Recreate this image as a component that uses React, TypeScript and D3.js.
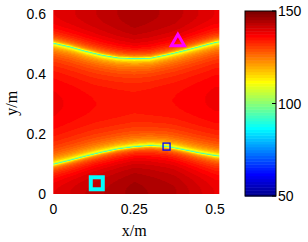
import { useEffect, useRef } from "react";
import * as d3 from "d3";

// nodal curves (y in m at each x)
const curveX = [0, 0.05, 0.1, 0.15, 0.2, 0.25, 0.3, 0.35, 0.4, 0.45, 0.5, 0.515];
const upperNode = [0.5, 0.488, 0.473, 0.46, 0.451, 0.449, 0.45, 0.461, 0.474, 0.488, 0.502, 0.505];
const lowerNode = [0.097, 0.11, 0.124, 0.137, 0.148, 0.155, 0.159, 0.156, 0.146, 0.135, 0.126, 0.124];

// peak levels of each band between the curves
const levelX = [0, 0.125, 0.25, 0.375, 0.5];
const topLevel = [139, 142, 145, 143, 139];
const midLevel = [138, 136, 135, 136, 138];
const bottomLevel = [139, 143, 146, 144, 139];
const floorLevel = 94;
const roomHeight = 0.6;

const sourcePt = [0.134, 0.034];
const probePt = [0.35, 0.156];
const targetPt = [0.385, 0.504];

const xTicks = [0, 0.25, 0.5];
const yTicks = [0, 0.2, 0.4, 0.6];
const cTicks = [50, 100, 150];
const cDomain: [number, number] = [50, 150];

const jet = (i: number, n: number) => {
  const t = (i + 1) / n;
  const c = (v: number) => Math.round(255 * Math.max(0, Math.min(1, v)));
  return [c(1.5 - Math.abs(4 * t - 3)), c(1.5 - Math.abs(4 * t - 2)), c(1.5 - Math.abs(4 * t - 1))];
};

const App = () => {
  const svgRef = useRef<SVGSVGElement | null>(null);

  useEffect(() => {
    const svg = d3.select(svgRef.current);
    svg.selectAll("*").remove();

    const x = d3.scaleLinear().domain([0, 0.5]).range([53.5, 215]);
    const y = d3.scaleLinear().domain([0, 0.6]).range([193.5, 13]);
    const c = d3.scaleLinear().domain(cDomain).range([196, 11]);

    const upper = d3.scaleLinear().domain(curveX).range(upperNode);
    const lower = d3.scaleLinear().domain(curveX).range(lowerNode);
    const topL = d3.scaleLinear().domain(levelX).range(topLevel).clamp(true);
    const midL = d3.scaleLinear().domain(levelX).range(midLevel).clamp(true);
    const botL = d3.scaleLinear().domain(levelX).range(bottomLevel).clamp(true);

    const nColors = 64;
    const colors = d3.range(nColors).map((i) => jet(i, nColors));
    const colorIndex = (v: number) =>
      Math.max(0, Math.min(nColors - 1, Math.floor(((v - cDomain[0]) / (cDomain[1] - cDomain[0])) * nColors)));

    // field image
    const x0 = 53.3;
    const x1 = 219.3;
    const y0 = 10;
    const y1 = 193.5;
    const W = Math.round(x1 - x0);
    const H = Math.round(y1 - y0);
    const canvas = document.createElement("canvas");
    canvas.width = W;
    canvas.height = H;
    const ctx = canvas.getContext("2d")!;
    const img = ctx.createImageData(W, H);
    for (let j = 0; j < H; j++) {
      const dy = y.invert(y0 + j + 0.5);
      for (let i = 0; i < W; i++) {
        const dx = x.invert(x0 + i + 0.5);
        const yb = lower(dx);
        const yt = upper(dx);
        let p: number;
        let L: number;
        if (dy < yb) {
          p = Math.sin((Math.PI / 2) * Math.min(1, (yb - dy) / yb));
          L = botL(dx);
        } else if (dy <= yt) {
          p = Math.sin((Math.PI * (dy - yb)) / (yt - yb));
          L = midL(dx);
        } else {
          p = Math.sin((Math.PI / 2) * Math.min(1, (dy - yt) / (roomHeight - yt)));
          L = topL(dx);
        }
        const v = Math.max(floorLevel, L + 20 * Math.log10(Math.max(Math.abs(p), 1e-6)));
        const col = colors[colorIndex(v)];
        const k = (j * W + i) * 4;
        img.data[k] = col[0];
        img.data[k + 1] = col[1];
        img.data[k + 2] = col[2];
        img.data[k + 3] = 255;
      }
    }
    ctx.putImageData(img, 0, 0);

    svg
      .append("image")
      .attr("x", x0)
      .attr("y", y0)
      .attr("width", W)
      .attr("height", H)
      .attr("preserveAspectRatio", "none")
      .attr("href", canvas.toDataURL());

    // markers
    svg
      .append("rect")
      .attr("x", x(sourcePt[0]) - 6)
      .attr("y", y(sourcePt[1]) - 6)
      .attr("width", 12)
      .attr("height", 12)
      .attr("fill", "none")
      .attr("stroke", "#00ffff")
      .attr("stroke-width", 4);

    svg
      .append("rect")
      .attr("x", x(probePt[0]) - 3.5)
      .attr("y", y(probePt[1]) - 3.5)
      .attr("width", 7)
      .attr("height", 7)
      .attr("fill", "none")
      .attr("stroke", "#0000ff")
      .attr("stroke-width", 1.3);

    svg
      .append("path")
      .attr("transform", `translate(${x(targetPt[0])},${y(targetPt[1])})`)
      .attr("d", d3.symbol(d3.symbolTriangle, 75)())
      .attr("fill", "none")
      .attr("stroke", "#ff00ff")
      .attr("stroke-width", 3);

    const tickFont = "'Liberation Sans', Arial, sans-serif";

    svg
      .append("g")
      .selectAll("text")
      .data(xTicks)
      .join("text")
      .attr("x", (d) => x(d))
      .attr("y", 214)
      .attr("text-anchor", "middle")
      .attr("font-family", tickFont)
      .attr("font-size", 14)
      .text((d) => String(d));

    svg
      .append("g")
      .selectAll("text")
      .data(yTicks)
      .join("text")
      .attr("x", 46)
      .attr("y", (d) => y(d))
      .attr("dy", "0.4em")
      .attr("text-anchor", "end")
      .attr("font-family", tickFont)
      .attr("font-size", 14)
      .text((d) => String(d));

    svg
      .append("text")
      .attr("x", x(0.25))
      .attr("y", 236)
      .attr("text-anchor", "middle")
      .attr("font-family", "'Liberation Serif', 'Times New Roman', serif")
      .attr("font-size", 16)
      .text("x/m");

    svg
      .append("text")
      .attr("transform", `translate(17,${y(0.3)}) rotate(-90)`)
      .attr("text-anchor", "middle")
      .attr("font-family", "'Liberation Serif', 'Times New Roman', serif")
      .attr("font-size", 16)
      .text("y/m");

    // colorbar
    const cb = svg.append("g");
    const bandH = (c(cDomain[0]) - c(cDomain[1])) / nColors;
    cb.selectAll("rect")
      .data(colors)
      .join("rect")
      .attr("x", 245)
      .attr("y", (_, i) => c(cDomain[0]) - (i + 1) * bandH)
      .attr("width", 31)
      .attr("height", bandH + 0.5)
      .attr("fill", (d) => `rgb(${d[0]},${d[1]},${d[2]})`);
    cb.append("rect")
      .attr("x", 245)
      .attr("y", c(cDomain[1]))
      .attr("width", 31)
      .attr("height", c(cDomain[0]) - c(cDomain[1]))
      .attr("fill", "none")
      .attr("stroke", "#000")
      .attr("stroke-width", 1);
    cb.selectAll("line")
      .data(cTicks)
      .join("line")
      .attr("x1", 272)
      .attr("x2", 276)
      .attr("y1", (d) => c(d))
      .attr("y2", (d) => c(d))
      .attr("stroke", "#000");
    cb.selectAll("text")
      .data(cTicks)
      .join("text")
      .attr("x", 278)
      .attr("y", (d) => c(d))
      .attr("dy", "0.38em")
      .attr("font-family", tickFont)
      .attr("font-size", 14)
      .text((d) => String(d));
  }, []);

  return (
    <div style={{ position: "fixed", left: 0, top: 0 }}>
      <svg ref={svgRef} width={308} height={242} style={{ display: "block", background: "#fff" }} />
    </div>
  );
};

export default App;
